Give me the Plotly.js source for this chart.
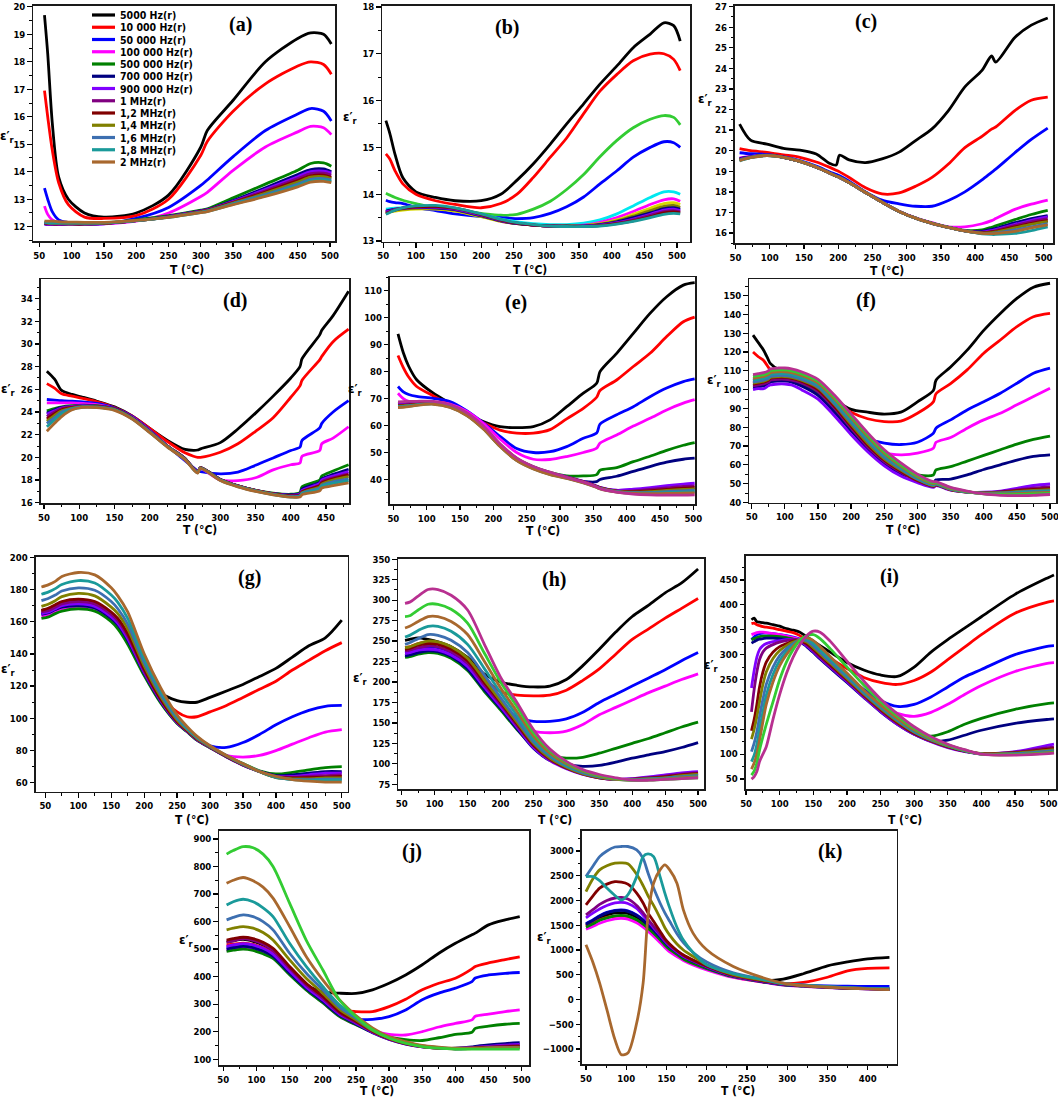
<!DOCTYPE html>
<html><head><meta charset="utf-8">
<script src="https://cdn.plot.ly/plotly-3.0.1.min.js"></script>
<style>html,body{margin:0;padding:0;background:#fff}#chart{width:1058px;height:1098px}</style>
</head><body><div id="chart"></div>
<script>
// ===================== DATA =====================
const LEGEND_NAMES = ['5000 Hz(r)','10 000 Hz(r)','50 000 Hz(r)','100 000 Hz(r)','500 000 Hz(r)','700 000 Hz(r)','900 000 Hz(r)','1 MHz(r)','1,2 MHz(r)','1,4 MHz(r)','1,6 MHz(r)','1,8 MHz(r)','2 MHz(r)'];
const LEGEND_KEYS = ['k','r','b','m','g','nv','vi','pu','wi','ol','ro','te','br'];

// (a)
const Ta = [58, 63, 70, 80, 95, 120, 150, 200, 250, 300, 310, 350, 400, 450, 470, 490, 502];
const aK = [19.7, 18.3, 15.8, 13.8, 13.0, 12.5, 12.35, 12.5, 13.15, 14.9, 15.5, 16.6, 18.0, 18.85, 19.05, 19.0, 18.65];
const aR = [16.95, 16.0, 14.8, 13.6, 12.8, 12.35, 12.3, 12.4, 13.0, 14.6, 15.1, 16.2, 17.2, 17.85, 18.0, 17.9, 17.55];
const aB = [13.4, 13.0, 12.55, 12.25, 12.15, 12.1, 12.1, 12.3, 12.7, 13.5, 13.7, 14.55, 15.5, 16.1, 16.3, 16.2, 15.85];
const aM = [12.75, 12.45, 12.25, 12.15, 12.1, 12.1, 12.1, 12.2, 12.5, 13.1, 13.25, 14.05, 14.9, 15.45, 15.65, 15.6, 15.35];
const aG = [12.12, 12.1, 12.1, 12.1, 12.1, 12.1, 12.12, 12.25, 12.4, 12.6, 12.65, 13.05, 13.55, 14.05, 14.3, 14.32, 14.2];
const aNv = [12.1, 12.08, 12.08, 12.08, 12.1, 12.1, 12.12, 12.22, 12.38, 12.58, 12.62, 12.95, 13.42, 13.9, 14.08, 14.1, 14.0];
const aVi = [12.1, 12.08, 12.08, 12.08, 12.1, 12.1, 12.12, 12.22, 12.37, 12.57, 12.61, 12.92, 13.36, 13.82, 14.0, 14.02, 13.95];
const aPu = [12.12, 12.1, 12.1, 12.1, 12.1, 12.1, 12.12, 12.22, 12.36, 12.56, 12.6, 12.9, 13.31, 13.75, 13.93, 13.95, 13.88];
const aWi = [12.14, 12.12, 12.1, 12.1, 12.1, 12.1, 12.12, 12.22, 12.36, 12.55, 12.59, 12.88, 13.26, 13.68, 13.85, 13.88, 13.8];
const aOl = [12.15, 12.13, 12.12, 12.12, 12.12, 12.12, 12.13, 12.22, 12.35, 12.54, 12.58, 12.86, 13.22, 13.62, 13.8, 13.82, 13.75];
const aRo = [12.16, 12.14, 12.13, 12.13, 12.13, 12.13, 12.14, 12.22, 12.35, 12.53, 12.57, 12.84, 13.17, 13.55, 13.72, 13.75, 13.7];
const aTe = [12.17, 12.15, 12.14, 12.14, 12.14, 12.14, 12.15, 12.22, 12.34, 12.52, 12.56, 12.82, 13.13, 13.5, 13.67, 13.7, 13.65];
const aBr = [12.2, 12.2, 12.2, 12.18, 12.17, 12.16, 12.16, 12.23, 12.34, 12.51, 12.55, 12.8, 13.1, 13.45, 13.62, 13.65, 13.6];

// (b)
const Tb = [54, 60, 68, 80, 100, 130, 160, 200, 230, 255, 280, 306, 331, 357, 382, 408, 433, 459, 480, 495, 505];
const bK = [15.57, 15.3, 14.85, 14.35, 14.05, 13.93, 13.86, 13.86, 14.0, 14.3, 14.65, 15.07, 15.5, 15.93, 16.35, 16.74, 17.13, 17.42, 17.66, 17.6, 17.27];
const bR = [14.86, 14.75, 14.5, 14.22, 14.0, 13.86, 13.78, 13.71, 13.8, 14.0, 14.36, 14.79, 15.2, 15.72, 16.2, 16.56, 16.85, 16.99, 17.0, 16.88, 16.64];
const bLi = [14.02, 13.98, 13.93, 13.87, 13.8, 13.7, 13.66, 13.59, 13.55, 13.57, 13.68, 13.85, 14.1, 14.42, 14.8, 15.15, 15.42, 15.6, 15.68, 15.64, 15.48];
const bB = [13.87, 13.84, 13.82, 13.8, 13.72, 13.65, 13.58, 13.52, 13.5, 13.48, 13.5, 13.59, 13.73, 13.94, 14.22, 14.5, 14.79, 15.0, 15.12, 15.1, 15.0];
const bCy = [13.68, 13.69, 13.7, 13.71, 13.72, 13.71, 13.68, 13.57, 13.47, 13.41, 13.37, 13.35, 13.35, 13.38, 13.45, 13.58, 13.75, 13.93, 14.05, 14.05, 14.0];
const bM = [13.62, 13.64, 13.66, 13.68, 13.7, 13.69, 13.65, 13.53, 13.42, 13.37, 13.34, 13.32, 13.32, 13.34, 13.4, 13.5, 13.63, 13.78, 13.88, 13.9, 13.85];
const bYe = [13.6, 13.62, 13.64, 13.66, 13.68, 13.68, 13.64, 13.52, 13.42, 13.37, 13.34, 13.32, 13.32, 13.33, 13.37, 13.45, 13.57, 13.7, 13.8, 13.82, 13.78];
const bOl = [13.62, 13.64, 13.66, 13.68, 13.7, 13.7, 13.66, 13.53, 13.43, 13.37, 13.34, 13.32, 13.32, 13.33, 13.36, 13.43, 13.53, 13.65, 13.74, 13.76, 13.72];
const bNv = [13.64, 13.66, 13.68, 13.7, 13.72, 13.71, 13.67, 13.54, 13.43, 13.37, 13.34, 13.32, 13.32, 13.32, 13.35, 13.41, 13.5, 13.6, 13.69, 13.71, 13.68];
const bVi = [13.62, 13.64, 13.67, 13.7, 13.72, 13.72, 13.68, 13.55, 13.44, 13.38, 13.34, 13.32, 13.31, 13.32, 13.34, 13.39, 13.47, 13.57, 13.66, 13.68, 13.65];
const bPu = [13.6, 13.63, 13.67, 13.7, 13.73, 13.73, 13.69, 13.56, 13.44, 13.38, 13.34, 13.32, 13.31, 13.31, 13.33, 13.38, 13.45, 13.55, 13.63, 13.65, 13.62];
const bWi = [13.58, 13.62, 13.66, 13.7, 13.73, 13.74, 13.7, 13.57, 13.45, 13.38, 13.34, 13.32, 13.31, 13.31, 13.33, 13.37, 13.43, 13.52, 13.6, 13.62, 13.6];
const bTe = [13.57, 13.61, 13.66, 13.71, 13.75, 13.76, 13.71, 13.58, 13.46, 13.39, 13.35, 13.32, 13.31, 13.31, 13.32, 13.36, 13.42, 13.5, 13.57, 13.59, 13.58];

// (c)
const Tc = [56, 72, 96, 120, 144, 168, 187, 197, 202, 216, 240, 264, 289, 313, 337, 361, 385, 410, 424, 430, 458, 482, 506];
const cK = [21.29, 20.51, 20.32, 20.11, 20.03, 19.84, 19.39, 19.3, 19.78, 19.55, 19.42, 19.6, 19.93, 20.49, 21.06, 21.95, 23.1, 23.9, 24.6, 24.3, 25.5, 26.1, 26.45];
const cR = [20.1, 20.0, 19.92, 19.8, 19.68, 19.45, 19.2, 19.05, 18.97, 18.7, 18.2, 17.9, 17.95, 18.27, 18.7, 19.35, 20.15, 20.7, 21.05, 21.15, 21.95, 22.45, 22.6];
const cB = [19.9, 19.85, 19.82, 19.7, 19.52, 19.25, 18.98, 18.85, 18.78, 18.52, 18.0, 17.6, 17.42, 17.3, 17.3, 17.58, 18.0, 18.58, 18.95, 19.1, 19.9, 20.55, 21.1];
const cM = [19.65, 19.72, 19.78, 19.68, 19.48, 19.2, 18.92, 18.77, 18.7, 18.45, 17.97, 17.5, 17.06, 16.74, 16.5, 16.3, 16.3, 16.45, 16.6, 16.7, 17.15, 17.4, 17.6];
const cG = [19.6, 19.7, 19.78, 19.68, 19.48, 19.2, 18.92, 18.77, 18.7, 18.45, 17.97, 17.5, 17.05, 16.72, 16.48, 16.28, 16.13, 16.15, 16.28, 16.35, 16.65, 16.9, 17.1];
const cNv = [19.62, 19.7, 19.78, 19.68, 19.48, 19.2, 18.92, 18.77, 18.7, 18.45, 17.97, 17.5, 17.05, 16.72, 16.47, 16.27, 16.1, 16.08, 16.18, 16.22, 16.5, 16.7, 16.85];
const cVi = [19.58, 19.7, 19.78, 19.68, 19.48, 19.2, 18.92, 18.77, 18.7, 18.45, 17.97, 17.5, 17.05, 16.72, 16.47, 16.27, 16.1, 16.04, 16.12, 16.17, 16.42, 16.62, 16.78];
const cPu = [19.56, 19.69, 19.77, 19.68, 19.48, 19.2, 18.92, 18.77, 18.7, 18.45, 17.97, 17.5, 17.05, 16.72, 16.47, 16.27, 16.1, 16.02, 16.08, 16.12, 16.37, 16.55, 16.7];
const cWi = [19.55, 19.68, 19.77, 19.68, 19.48, 19.2, 18.92, 18.77, 18.7, 18.45, 17.97, 17.5, 17.05, 16.72, 16.47, 16.27, 16.1, 16.0, 16.05, 16.08, 16.3, 16.47, 16.6];
const cOl = [19.55, 19.68, 19.77, 19.68, 19.48, 19.2, 18.92, 18.77, 18.7, 18.45, 17.97, 17.5, 17.05, 16.72, 16.47, 16.27, 16.1, 16.0, 16.02, 16.05, 16.25, 16.42, 16.55];
const cRo = [19.53, 19.67, 19.76, 19.68, 19.48, 19.2, 18.92, 18.77, 18.7, 18.45, 17.97, 17.5, 17.05, 16.72, 16.47, 16.27, 16.1, 15.98, 15.98, 16.0, 16.15, 16.3, 16.45];
const cTe = [19.5, 19.66, 19.76, 19.68, 19.48, 19.2, 18.92, 18.77, 18.7, 18.45, 17.97, 17.5, 17.05, 16.72, 16.47, 16.27, 16.1, 15.96, 15.93, 15.93, 15.98, 16.12, 16.3];
const cBr = [19.52, 19.66, 19.76, 19.68, 19.48, 19.2, 18.92, 18.77, 18.7, 18.45, 17.97, 17.5, 17.05, 16.72, 16.47, 16.27, 16.1, 15.98, 15.97, 15.98, 16.08, 16.25, 16.4];

// (d)
const Td = [54, 65, 75, 90, 105, 125, 150, 175, 200, 225, 250, 262, 268, 272, 300, 325, 350, 375, 400, 413, 416, 441, 444, 460, 482];
const dK = [27.6, 26.9, 25.9, 25.55, 25.3, 24.95, 24.45, 23.65, 22.55, 21.5, 20.7, 20.62, 20.65, 20.75, 21.3, 22.5, 23.9, 25.4, 27.0, 28.0, 28.7, 30.8, 31.2, 32.5, 34.65];
const dR = [26.5, 26.1, 25.6, 25.4, 25.2, 24.9, 24.4, 23.65, 22.55, 21.4, 20.4, 20.1, 20.0, 20.0, 20.45, 21.2, 22.3, 23.5, 25.3, 26.3, 26.8, 28.6, 28.9, 30.2, 31.3];
const dB = [25.1, 25.05, 25.0, 24.95, 24.9, 24.75, 24.35, 23.6, 22.4, 21.0, 19.7, 19.1, 18.8, 18.75, 18.55, 18.7, 19.3, 19.95, 20.6, 20.9, 21.5, 22.6, 23.0, 24.0, 25.0];
const dM = [24.8, 24.8, 24.8, 24.8, 24.75, 24.65, 24.3, 23.55, 22.35, 21.0, 19.8, 19.0, 18.75, 19.0, 18.0, 17.95, 18.2, 18.9, 19.35, 19.5, 20.1, 20.6, 21.2, 21.7, 22.7];
const dG = [24.1, 24.3, 24.45, 24.55, 24.6, 24.55, 24.3, 23.5, 22.3, 21.0, 19.9, 19.0, 18.7, 19.1, 18.05, 17.5, 17.1, 16.85, 16.75, 16.9, 17.4, 18.0, 18.35, 18.8, 19.35];
const dNv = [23.9, 24.2, 24.4, 24.5, 24.55, 24.5, 24.3, 23.5, 22.3, 21.0, 19.9, 19.0, 18.7, 19.1, 18.05, 17.5, 17.1, 16.8, 16.7, 16.8, 17.2, 17.8, 18.1, 18.5, 18.95];
const dVi = [23.8, 24.1, 24.35, 24.5, 24.55, 24.5, 24.28, 23.5, 22.3, 21.0, 19.9, 19.0, 18.7, 19.1, 18.05, 17.5, 17.1, 16.8, 16.65, 16.75, 17.1, 17.7, 18.0, 18.35, 18.75];
const dPu = [23.6, 24.0, 24.3, 24.45, 24.5, 24.5, 24.27, 23.48, 22.3, 21.0, 19.9, 19.0, 18.7, 19.1, 18.05, 17.5, 17.1, 16.8, 16.6, 16.7, 17.0, 17.55, 17.85, 18.2, 18.55];
const dWi = [23.4, 23.85, 24.2, 24.4, 24.5, 24.48, 24.25, 23.47, 22.28, 20.98, 19.88, 19.0, 18.7, 19.1, 18.04, 17.48, 17.08, 16.78, 16.6, 16.65, 16.95, 17.5, 17.75, 18.1, 18.45];
const dOl = [23.2, 23.7, 24.1, 24.35, 24.47, 24.45, 24.23, 23.45, 22.26, 20.96, 19.86, 18.98, 18.68, 19.08, 18.02, 17.46, 17.06, 16.76, 16.55, 16.6, 16.9, 17.4, 17.65, 18.0, 18.3];
const dRo = [23.0, 23.5, 24.0, 24.3, 24.45, 24.43, 24.2, 23.43, 22.24, 20.94, 19.84, 18.96, 18.66, 19.06, 18.0, 17.44, 17.04, 16.74, 16.55, 16.6, 16.85, 17.3, 17.55, 17.85, 18.1];
const dTe = [22.7, 23.3, 23.85, 24.25, 24.42, 24.4, 24.18, 23.4, 22.2, 20.92, 19.82, 18.94, 18.64, 19.04, 17.98, 17.42, 17.02, 16.72, 16.5, 16.55, 16.8, 17.2, 17.45, 17.7, 17.95];
const dBr = [22.3, 23.0, 23.6, 24.2, 24.4, 24.38, 24.15, 23.38, 22.18, 20.9, 19.8, 18.92, 18.62, 19.02, 17.96, 17.4, 17.0, 16.7, 16.5, 16.5, 16.7, 17.05, 17.3, 17.5, 17.75];

// (e)
const Te = [57, 65, 73, 85, 110, 135, 160, 185, 210, 235, 260, 285, 310, 335, 355, 360, 385, 410, 435, 460, 485, 502];
const eK = [94, 87, 82, 77, 72, 68.3, 64.6, 61.5, 59.6, 59.2, 59.6, 62.1, 67, 72, 75.7, 80, 86.8, 94.2, 101.6, 107.8, 112.1, 113];
const eR = [86, 81.5, 78, 74.5, 71, 67.8, 64.5, 61.0, 58.3, 57.2, 57.2, 58.5, 62.5, 66.4, 70.5, 73, 76.9, 81.9, 86.8, 93, 98.5, 100.2];
const eB = [74.5, 72.5, 71.5, 70.8, 70.1, 68.9, 65.5, 61.0, 56, 51.5, 50.0, 50.3, 52.2, 55.3, 57.2, 60.5, 64, 67, 70.7, 73.9, 76.3, 77.3];
const eM = [72, 70, 69, 68.5, 68.8, 68, 65.3, 60.8, 55, 50, 47.5, 47.4, 48.5, 50, 51.6, 53.5, 56.5, 59.8, 62.7, 65.8, 68.3, 69.6];
const eG = [68.3, 68.4, 68.5, 68.6, 68.7, 67.5, 64.5, 59.5, 53, 47.8, 44.7, 42.6, 41.3, 41.3, 41.8, 43.4, 44.4, 46.6, 48.6, 50.8, 52.7, 53.7];
const eNv = [68.0, 68.1, 68.2, 68.4, 68.6, 67.4, 64.4, 59.4, 52.9, 47.7, 44.6, 42.5, 40.6, 39.3, 39.2, 40, 41.2, 43, 44.8, 46.4, 47.5, 47.9];
const eVi = [67.8, 67.9, 68.0, 68.2, 68.5, 67.3, 64.3, 59.3, 52.8, 47.6, 44.5, 42.4, 41.0, 39.3, 37.6, 37.1, 36.0, 36.4, 37.0, 37.7, 38.3, 38.6];
const ePu = [67.6, 67.7, 67.8, 68.0, 68.4, 67.2, 64.2, 59.2, 52.7, 47.5, 44.4, 42.3, 40.9, 39.2, 37.5, 37.0, 35.8, 35.8, 36.3, 36.9, 37.4, 37.6];
const eWi = [67.4, 67.5, 67.6, 67.9, 68.3, 67.1, 64.1, 59.1, 52.6, 47.4, 44.3, 42.2, 40.8, 39.1, 37.4, 36.9, 35.7, 35.5, 35.8, 36.3, 36.8, 37.0];
const eOl = [67.2, 67.3, 67.5, 67.8, 68.2, 67.0, 64.0, 59.0, 52.5, 47.3, 44.2, 42.1, 40.7, 39.0, 37.3, 36.8, 35.6, 35.3, 35.5, 35.9, 36.3, 36.5];
const eRo = [67.0, 67.1, 67.3, 67.7, 68.1, 66.9, 63.9, 58.9, 52.4, 47.2, 44.1, 42.0, 40.6, 38.9, 37.2, 36.7, 35.5, 35.1, 35.2, 35.5, 35.8, 36.0];
const eTe = [66.9, 67.0, 67.2, 67.6, 68.0, 66.8, 63.8, 58.8, 52.3, 47.1, 44.0, 41.9, 40.5, 38.8, 37.1, 36.6, 35.4, 34.9, 35.0, 35.1, 35.3, 35.5];
const eBr = [66.7, 66.8, 67.0, 67.5, 67.9, 66.7, 63.7, 58.7, 52.2, 47.0, 43.9, 41.8, 40.4, 38.7, 37.0, 36.5, 35.3, 34.8, 34.7, 34.8, 34.9, 35.0];
const eMp = [68.8, 68.9, 69.0, 69.0, 69.0, 67.8, 64.8, 59.8, 53.2, 48.0, 44.8, 42.7, 40.8, 39.0, 37.2, 36.6, 35.3, 34.6, 34.3, 34.2, 34.2, 34.3];

// (f)
const Tf = [52, 60, 68, 75, 78, 90, 100, 110, 125, 150, 175, 200, 225, 250, 275, 300, 324, 328, 350, 375, 400, 425, 450, 475, 500];
const fK = [129, 125, 121, 116, 114, 111, 110.5, 110.5, 108.5, 104, 95, 89.5, 88, 87, 88, 93.5, 99.5, 105, 112, 121, 131.5, 140.5, 148.5, 154.5, 156.6];
const fR = [120, 117.5, 115.5, 112, 110.5, 109, 109, 109, 107, 102.5, 93.5, 88, 84.5, 83, 83.2, 87.4, 93.5, 97.8, 103.2, 110.5, 119.4, 126.4, 133.5, 138.8, 140.6];
const fB = [105, 105.5, 106, 107, 108, 108.5, 108.5, 108, 106, 101, 92, 82, 74, 71.6, 70.8, 72, 76.8, 79.5, 83.9, 89.2, 93.6, 98.1, 103.4, 108.7, 111.4];
const fM = [104, 104.5, 105, 106, 107, 107.5, 107.5, 107, 105, 100, 91, 81, 71.5, 66.5, 65.3, 66.2, 68.8, 72, 74.5, 79.5, 83.9, 87.4, 91.9, 96.3, 100.7];
const fG = [102, 102.5, 103, 104, 105, 105.5, 105.5, 105, 103, 98, 89, 79, 69.5, 61.5, 57, 54.6, 54.6, 57.3, 59, 62, 65, 68, 71, 73.5, 75.3];
const fNv = [101, 101.5, 102, 103, 104, 104.5, 104.5, 104, 102, 97, 88, 78, 68.5, 60.5, 55, 53, 50.3, 52, 52.4, 54.6, 57.5, 60, 62.5, 64.5, 65.3];
const fVi = [100, 100.5, 100.5, 102, 102.5, 103, 103, 102.5, 100, 95, 86, 76, 67, 59.5, 54, 50.5, 48, 49, 46.5, 45.5, 45.4, 46, 47.5, 49, 49.8];
const fPu = [102, 102.5, 103, 104, 105, 105.5, 105.5, 105, 103.5, 99, 90, 79.5, 69.5, 61.7, 56, 51.4, 48.4, 49.2, 46.7, 45.5, 45.2, 45.7, 46.7, 47.6, 48.2];
const fWi = [103, 103.5, 104, 105, 106, 106.5, 106.5, 106, 104.5, 100, 91, 80.5, 70.5, 62.5, 56.6, 51.8, 48.7, 49.4, 46.8, 45.5, 45.1, 45.4, 46.2, 46.9, 47.3];
const fOl = [103.5, 104, 104.5, 105.5, 106.5, 107, 107, 106.5, 105, 101, 92, 81.5, 71.5, 63.2, 57.2, 52.2, 48.9, 49.6, 46.9, 45.5, 45, 45.2, 45.8, 46.4, 46.8];
const fRo = [104, 104.5, 105, 106, 107, 107.5, 107.5, 107, 105.5, 101.5, 92.5, 82.5, 72.5, 64, 57.8, 52.5, 49.2, 49.8, 47, 45.5, 44.9, 45.0, 45.5, 46, 46.3];
const fTe = [105, 105.5, 106, 107, 108, 108.5, 108.5, 108, 106.5, 102.5, 93.5, 83.5, 73.5, 65, 58.5, 53, 49.6, 50, 47.2, 45.6, 44.8, 44.8, 45.1, 45.5, 45.8];
const fBr = [106, 106.5, 107, 108, 109, 109.5, 109.5, 109, 107.5, 103.5, 95, 85, 75, 66, 59.3, 53.7, 50, 50.4, 47.4, 45.7, 44.7, 44.5, 44.7, 45, 45.3];
const fLi = [107, 107.5, 108, 109, 110, 110.5, 110.5, 110, 108.5, 104.5, 96, 86, 76, 67, 60, 54.3, 50.5, 50.7, 47.7, 45.8, 44.6, 44.2, 44.2, 44.5, 44.8];
const fMp = [108, 108.5, 109, 110, 111, 111.5, 111.5, 111, 109.5, 105.5, 97, 87, 77, 68, 61, 55, 51, 51, 48, 46, 44.5, 43.8, 43.6, 43.8, 44.2];

// (g)
const Tg = [44, 55, 65, 75, 100, 125, 150, 160, 175, 200, 225, 250, 265, 280, 300, 325, 350, 375, 400, 425, 450, 475, 500];
const gK = [167, 168, 170, 172, 173, 171.5, 165, 160.5, 151, 131, 116, 111, 110, 110, 113, 117, 121, 126, 131, 138, 145, 150, 161];
const gR = [166, 167, 169, 171, 172, 170.5, 164, 159.5, 150, 130, 114, 104, 101, 101, 104, 108, 113, 118, 123, 130, 136, 142, 147];
const gB = [165, 166, 168, 170, 171, 169.5, 163, 158.5, 149, 129, 112, 99, 93, 88, 83, 82, 85, 90, 96, 101, 105, 107.5, 108];
const gM = [163.5, 164.5, 166.5, 168, 169.5, 168, 161.5, 157, 147.5, 127.5, 110.5, 97.5, 92.5, 87.5, 82, 77, 76, 77, 80, 84, 88, 91.5, 93];
const gG = [162, 163, 165, 166.5, 168, 166.5, 160, 155.5, 146, 126.5, 109.5, 96.8, 91.7, 86.5, 81.8, 76.2, 72, 67.5, 65.5, 66.5, 68, 69.5, 70];
const gNv = [164.5, 165.5, 167.5, 169, 170, 168.5, 162, 158, 148.5, 128, 110.5, 97.2, 92, 86.7, 81.9, 76.1, 71, 67.2, 64.5, 65, 66, 67, 67];
const gVi = [165, 166, 168, 170, 171, 169.5, 163, 159, 149.5, 128.5, 111, 97.4, 92.1, 86.8, 82, 76.2, 71, 67, 64, 64, 65, 66, 66];
const gPu = [166, 167, 169, 171, 172.5, 171, 164.5, 160.5, 151, 129.5, 111.5, 97.7, 92.3, 87, 82.1, 76.3, 71.1, 67, 63.8, 63.5, 64, 64.5, 65];
const gWi = [167, 168.5, 170.5, 172.5, 174, 172.5, 166, 162, 152.5, 130.5, 112, 98, 92.5, 87.2, 82.2, 76.4, 71.2, 67, 63.5, 63, 63.2, 63.6, 64];
const gOl = [169.5, 171, 173, 175.5, 177.5, 176, 169, 165, 155.5, 132.5, 113.5, 99, 93, 87.6, 82.4, 76.6, 71.4, 67, 63.3, 62.5, 62.5, 63, 63];
const gRo = [173, 174.5, 176.5, 179, 181, 179.5, 172.5, 168, 158.5, 134.5, 115, 100, 93.5, 88, 82.6, 76.8, 71.6, 67, 63.4, 62.2, 62, 62.3, 62.3];
const gTe = [177, 178.5, 180.5, 183, 185.5, 184, 176.5, 172, 162, 137, 117, 101, 94, 88.5, 82.8, 77, 71.8, 67, 63.5, 62, 61.5, 61.7, 61.7];
const gBr = [181.5, 183, 185, 188, 190.5, 189, 181, 176, 166, 140, 119, 102, 95, 89, 83, 77, 72, 67, 64, 62, 61, 60.5, 60.5];

// (h)
const Th = [55, 62, 75, 90, 105, 125, 150, 175, 200, 225, 250, 275, 300, 325, 350, 375, 400, 425, 450, 475, 500];
const hK = [251, 252, 254, 252, 249, 243, 230, 210, 200, 196, 194, 195, 203, 220, 240, 261, 280, 294, 309, 321, 338];
const hR = [242, 243, 247, 249, 248, 242, 228, 205, 188, 184, 183, 184, 190, 202, 216, 234, 252, 265, 278, 290, 302];
const hB = [236, 237, 241, 243, 242, 236, 221, 196, 172, 157, 152, 152, 155, 163, 175, 185, 195, 205, 215, 226, 236];
const hM = [232, 233, 237, 239, 238, 232, 217, 192, 168, 150, 140, 138, 140, 148, 160, 169, 178, 187, 195, 203, 210];
const hG = [230, 231, 234, 236, 235, 229, 214, 189, 166, 142, 122, 110, 107, 108, 113, 119, 125, 131, 138, 145, 151];
const hNv = [232, 233, 236, 238, 237, 231, 216, 191, 168, 143, 119, 104, 99, 97, 98, 102, 107, 111, 115, 120, 126];
const hVi = [235, 236, 239, 240, 239, 233, 219, 194, 170, 145, 120, 104, 94, 87, 83, 81, 82, 84, 86.5, 89, 90.5];
const hPu = [238, 239, 242, 244, 243, 237, 223, 197, 173, 147, 122, 105, 95, 87.5, 83, 81, 81.5, 83, 85, 87.5, 89];
const hWi = [240, 241, 245, 247, 246, 240, 226, 200, 175, 149, 123, 106, 95, 88, 83, 81, 81, 82.5, 84, 86.5, 88];
const hOl = [242, 243, 247, 250, 249, 243, 229, 203, 177, 151, 125, 107, 96, 88, 83.5, 81, 81, 82, 83, 85.5, 87];
const hRo = [246, 248, 253, 258, 257, 251, 236, 209, 181, 154, 127, 109, 97, 89, 84, 81, 80.5, 81.5, 82.5, 84.5, 86];
const hTe = [255, 257, 263, 268, 268, 262, 246, 217, 187, 159, 130, 111, 98, 90, 84, 81, 80, 81, 82, 83.5, 85];
const hBr = [266, 268, 274, 280, 280, 274, 258, 226, 193, 164, 134, 113, 100, 91, 85, 81, 80, 80.5, 81.5, 83, 84];
const hLi = [280, 281, 288, 295, 295, 289, 272, 236, 200, 170, 138, 116, 102, 92, 86, 82, 80, 80, 81, 82, 83];
const hMp = [296, 297.6, 305, 313, 313, 306, 288, 247, 206, 175, 142, 118, 103, 93, 87, 83, 80, 80, 81, 82, 83];

// (i)
const Ti = [58, 62, 66, 70, 75, 80, 90, 100, 110, 120, 130, 140, 150, 160, 175, 200, 225, 250, 275, 300, 325, 350, 375, 400, 450, 500, 508];
const iK = [370, 373, 366, 365, 364, 363, 360, 357, 352, 349, 345, 336, 327, 318, 305, 284, 269, 259, 256, 275, 305, 330, 353, 376, 421, 455, 460];
const iR = [362, 363, 360, 358, 356, 355, 353, 350, 347, 344, 338, 328, 318, 308, 293, 272, 254, 244, 240, 248, 265, 290, 315, 340, 383, 406, 408];
const iB = [330, 335, 340, 342, 343, 343, 342, 340, 338, 335, 331, 322, 310, 298, 282, 256, 230, 208, 196, 200, 215, 235, 255, 270, 300, 317, 318];
const iM = [340, 342, 344, 345, 345, 344, 342, 340, 337, 334, 330, 320, 308, 296, 279, 252, 225, 200, 182, 176, 184, 200, 220, 238, 266, 283, 284];
const iG = [330, 332, 334, 336, 337, 337, 337, 336, 334, 331, 328, 318, 306, 294, 276, 248, 218, 190, 165, 142, 136, 145, 160, 172, 190, 202, 203];
const iNv = [323, 326, 329, 331, 332, 333, 333, 332, 331, 329, 326, 316, 304, 291, 273, 244, 214, 185, 160, 140, 126, 128, 138, 148, 162, 170, 171];
const iVi = [233, 268, 295, 310, 318, 322, 326, 328, 330, 330, 327, 318, 306, 293, 275, 246, 215, 186, 160, 140, 125, 113, 105, 101, 105, 118, 120];
const iPu = [185, 230, 265, 290, 305, 313, 320, 325, 328, 330, 328, 320, 308, 295, 277, 248, 217, 188, 162, 141, 126, 114, 106, 101, 104, 113, 114];
const iWi = [147, 170, 200, 235, 265, 285, 305, 316, 322, 327, 328, 322, 311, 298, 280, 250, 219, 190, 164, 142, 127, 115, 106, 101, 103, 110, 111];
const iOl = [130, 150, 175, 205, 240, 265, 292, 308, 318, 325, 329, 325, 314, 301, 283, 252, 221, 192, 166, 144, 128, 116, 107, 101, 102, 108, 109];
const iRo = [105, 122, 145, 175, 210, 240, 275, 298, 312, 322, 329, 328, 318, 305, 286, 255, 223, 194, 168, 145, 129, 117, 107, 100, 101, 106, 107];
const iTe = [85, 98, 120, 150, 185, 218, 260, 288, 306, 319, 329, 331, 323, 310, 291, 259, 226, 196, 170, 147, 130, 117, 107, 100, 100, 104, 105];
const iBr = [70, 82, 100, 128, 165, 200, 245, 278, 300, 316, 330, 334, 328, 316, 296, 263, 229, 199, 172, 149, 131, 118, 108, 100, 99, 103, 104];
const iLi = [58, 66, 82, 108, 135, 160, 205, 250, 285, 310, 329, 338, 340, 332, 312, 275, 239, 206, 177, 152, 133, 119, 108, 100, 99, 102, 103];
const iMp = [50, 55, 65, 85, 100, 115, 170, 220, 262, 295, 320, 338, 347, 345, 327, 287, 247, 211, 181, 155, 135, 120, 109, 100, 98, 101, 102];

// (j)
const Tj = [55, 65, 80, 95, 110, 125, 150, 175, 200, 225, 250, 275, 300, 325, 350, 375, 400, 425, 430, 450, 475, 497];
const jK = [525, 530, 535, 528, 515, 495, 430, 370, 345, 340, 339, 352, 376, 406, 443, 485, 521, 552, 558, 588, 606, 618];
const jR = [515, 518, 522, 517, 505, 485, 422, 363, 315, 280, 273, 273, 291, 318, 352, 376, 394, 428, 437, 450, 462, 472];
const jB = [505, 508, 512, 507, 495, 476, 415, 358, 310, 265, 245, 245, 255, 279, 316, 340, 358, 382, 395, 406, 412, 415];
const jM = [495, 498, 503, 498, 486, 468, 409, 353, 306, 257, 226, 205, 190, 188, 200, 217, 230, 243, 256, 264, 273, 279];
const jG = [492, 496, 500, 495, 483, 466, 407, 352, 305, 256, 225, 198, 180, 171, 168, 178, 190, 198, 212, 220, 227, 230];
const jNv = [500, 505, 510, 505, 493, 474, 413, 357, 310, 260, 228, 196, 172, 155, 145, 140, 140, 145, 147, 152, 157, 160];
const jVi = [510, 515, 520, 515, 503, 482, 420, 362, 315, 264, 231, 198, 173, 156, 145, 140, 139, 142, 143, 147, 151, 154];
const jPu = [525, 530, 538, 532, 518, 495, 430, 370, 322, 268, 234, 200, 174, 157, 146, 140, 139, 141, 142, 145, 148, 150];
const jWi = [533, 538, 543, 538, 525, 503, 437, 376, 329, 273, 238, 202, 175, 157, 146, 140, 138, 140, 141, 143, 145, 147];
const jOl = [570, 576, 582, 576, 560, 533, 461, 394, 340, 282, 243, 204, 176, 158, 146, 140, 138, 139, 140, 141, 143, 144];
const jRo = [606, 615, 624, 618, 600, 570, 485, 413, 352, 290, 249, 207, 178, 159, 147, 141, 138, 139, 139, 140, 142, 143];
const jTe = [660, 672, 681, 672, 650, 618, 521, 437, 364, 298, 255, 209, 180, 160, 148, 142, 138, 139, 139, 140, 141, 142];
const jBr = [739, 750, 760, 748, 725, 685, 582, 473, 388, 316, 259, 214, 182, 164, 150, 144, 140, 140, 140, 141, 142, 142];
const jLi = [845, 858, 872, 868, 845, 800, 667, 533, 425, 316, 255, 207, 177, 158, 146, 140, 137, 137, 137, 137, 137, 137];

// (k)
const Tk = [50, 59, 67, 76, 86, 94, 102, 113, 121, 127, 134, 142, 148, 154, 163, 171, 183, 200, 233, 274, 295, 320, 350, 375, 400, 427];
const kK = [1500, 1580, 1650, 1710, 1750, 1755, 1740, 1660, 1570, 1480, 1380, 1240, 1130, 1040, 930, 840, 750, 640, 470, 380, 410, 520, 680, 760, 820, 850];
const kR = [1480, 1550, 1610, 1660, 1680, 1690, 1675, 1600, 1510, 1430, 1330, 1200, 1090, 1000, 900, 810, 720, 620, 455, 345, 320, 345, 450, 580, 630, 640];
const kB = [1530, 1610, 1690, 1760, 1800, 1810, 1790, 1710, 1610, 1510, 1410, 1270, 1160, 1070, 955, 865, 775, 655, 475, 355, 305, 290, 275, 268, 265, 265];
const kM = [1420, 1480, 1540, 1590, 1630, 1640, 1625, 1550, 1460, 1380, 1280, 1150, 1050, 960, 870, 790, 700, 600, 445, 340, 290, 265, 240, 225, 215, 205];
const kG = [1460, 1530, 1600, 1650, 1690, 1700, 1685, 1610, 1520, 1440, 1340, 1210, 1100, 1010, 910, 820, 730, 625, 460, 345, 295, 270, 245, 230, 220, 212];
const kNv = [1520, 1600, 1680, 1750, 1790, 1800, 1780, 1700, 1600, 1500, 1400, 1260, 1150, 1060, 950, 860, 770, 650, 470, 350, 300, 275, 246, 228, 216, 206];
const kVi = [1650, 1750, 1830, 1900, 1950, 1960, 1940, 1840, 1700, 1580, 1450, 1300, 1180, 1080, 960, 870, 780, 660, 475, 355, 305, 278, 248, 230, 218, 208];
const kPu = [1710, 1820, 1920, 2000, 2050, 2060, 2030, 1900, 1750, 1620, 1480, 1320, 1200, 1100, 980, 890, 790, 670, 480, 360, 310, 280, 250, 232, 220, 210];
const kWi = [1911, 2100, 2250, 2330, 2380, 2370, 2330, 2150, 1950, 1750, 1580, 1380, 1230, 1120, 990, 900, 800, 680, 490, 370, 315, 282, 252, 232, 220, 210];
const kOl = [2180, 2450, 2617, 2700, 2752, 2760, 2740, 2530, 2300, 2100, 1900, 1650, 1450, 1300, 1120, 1000, 870, 700, 500, 380, 320, 285, 255, 235, 222, 212];
const kRo = [2482, 2700, 2885, 3000, 3080, 3090, 3090, 3020, 2850, 2560, 2250, 1950, 1750, 1580, 1330, 1150, 950, 760, 540, 400, 330, 290, 260, 240, 225, 215];
const kTe = [2482, 2482, 2400, 2250, 2100, 2010, 2113, 2482, 2885, 2940, 2885, 2482, 2150, 1850, 1460, 1200, 950, 700, 520, 390, 320, 290, 260, 240, 225, 215];
const kBr = [1105, 734, 331, -206, -810, -1113, -1080, -474, 331, 1675, 2349, 2617, 2718, 2617, 2349, 1810, 1341, 1004, 667, 420, 331, 280, 250, 230, 215, 198];

// ===================== STYLE / LAYOUT =====================
const W = 1058, H = 1098;
const COL = {k:'#000000', r:'#ff0000', b:'#0000ff', m:'#ff00ff', g:'#008000', nv:'#000080', vi:'#8000ff',
  pu:'#800080', wi:'#800000', ol:'#808000', ro:'#3d6fb0', te:'#1a9a9a', br:'#a8682e', li:'#33cc33',
  mp:'#b83090', cy:'#00e8f0', ye:'#d8d800'};
const STD = (p) => [[p.K,'k'],[p.R,'r'],[p.B,'b'],[p.M,'m'],[p.G,'g'],[p.Nv,'nv'],[p.Vi,'vi'],[p.Pu,'pu'],[p.Wi,'wi'],[p.Ol,'ol'],[p.Ro,'ro'],[p.Te,'te'],[p.Br,'br']];

const panels = [
 {lab:'(a)', T:Ta, s:STD({K:aK,R:aR,B:aB,M:aM,G:aG,Nv:aNv,Vi:aVi,Pu:aPu,Wi:aWi,Ol:aOl,Ro:aRo,Te:aTe,Br:aBr}),
  box:[33.3,6,335,241], xr:[40.7,507.7], yr:[11.48,20.03], dy:1, lp:[240,25], xt:[187,270], yt:[7,137]},
 {lab:'(b)', T:Tb, s:[[bK,'k'],[bR,'r'],[bLi,'li'],[bB,'b'],[bCy,'cy'],[bM,'m'],[bYe,'ye'],[bOl,'ol'],[bNv,'nv'],[bVi,'vi'],[bPu,'pu'],[bWi,'wi'],[bTe,'te']],
  box:[382.3,6,690,241.7], xr:[48.5,520], yr:[12.985,18.02], dy:1, lp:[507,28], xt:[530,270], yt:[350,117]},
 {lab:'(c)', T:Tc, s:STD({K:cK,R:cR,B:cB,M:cM,G:cG,Nv:cNv,Vi:cVi,Pu:cPu,Wi:cWi,Ol:cOl,Ro:cRo,Te:cTe,Br:cBr}),
  box:[735,6,1053,243.3], xr:[49.3,513.7], yr:[15.5,27.03], dy:1, lp:[866,22], xt:[887,271], yt:[705,100]},
 {lab:'(d)', T:Td, s:STD({K:dK,R:dR,B:dB,M:dM,G:dG,Nv:dNv,Vi:dVi,Pu:dPu,Wi:dWi,Ol:dOl,Ro:dRo,Te:dTe,Br:dBr}),
  box:[40.7,279.3,349.3,503.3], xr:[45.3,483], yr:[15.95,35.7], dy:2, lp:[235,300], xt:[200,530], yt:[8,390]},
 {lab:'(e)', T:Te, s:STD({K:eK,R:eR,B:eB,M:eM,G:eG,Nv:eNv,Vi:eVi,Pu:ePu,Wi:eWi,Ol:eOl,Ro:eRo,Te:eTe,Br:eBr}).concat([[eMp,'mp']]),
  box:[390,277.3,695,504], xr:[45,502.5], yr:[30.9,115], dy:10, lp:[516,302], xt:[543,531], yt:[355,390]},
 {lab:'(f)', T:Tf, s:STD({K:fK,R:fR,B:fB,M:fM,G:fG,Nv:fNv,Vi:fVi,Pu:fPu,Wi:fWi,Ol:fOl,Ro:fRo,Te:fTe,Br:fBr}).concat([[fLi,'li'],[fMp,'mp']]),
  box:[749.3,279.3,1056,502.7], xr:[46.4,509], yr:[39.85,158.7], dy:10, lp:[866,300], xt:[903,530], yt:[714,380]},
 {lab:'(g)', T:Tg, s:STD({K:gK,R:gR,B:gB,M:gM,G:gG,Nv:gNv,Vi:gVi,Pu:gPu,Wi:gWi,Ol:gOl,Ro:gRo,Te:gTe,Br:gBr}),
  box:[35.7,556.7,347.7,791.7], xr:[35.3,509], yr:[54.5,200.3], dy:20, lp:[249,577], xt:[192,820], yt:[8,669]},
 {lab:'(h)', T:Th, s:STD({K:hK,R:hR,B:hB,M:hM,G:hG,Nv:hNv,Vi:hVi,Pu:hPu,Wi:hWi,Ol:hOl,Ro:hRo,Te:hTe,Br:hBr}).concat([[hLi,'li'],[hMp,'mp']]),
  box:[398.3,559,704,789.3], xr:[44.8,509], yr:[68.9,350.3], dy:25, lp:[554,579], xt:[555,820], yt:[360,678]},
 {lab:'(i)', T:Ti, s:STD({K:iK,R:iR,B:iB,M:iM,G:iG,Nv:iNv,Vi:iVi,Pu:iPu,Wi:iWi,Ol:iOl,Ro:iRo,Te:iTe,Br:iBr}).concat([[iLi,'li'],[iMp,'mp']]),
  box:[745.7,556,1056,789.3], xr:[49.4,511], yr:[29.4,498], dy:50, lp:[889,576], xt:[905,820], yt:[711,665]},
 {lab:'(j)', T:Tj, s:STD({K:jK,R:jR,B:jB,M:jM,G:jG,Nv:jNv,Vi:jVi,Pu:jPu,Wi:jWi,Ol:jOl,Ro:jRo,Te:jTe,Br:jBr}).concat([[jLi,'li']]),
  box:[219.3,831,529,1065], xr:[44,511], yr:[79,929], dy:100, lp:[412,851], xt:[377,1091], yt:[186,940]},
 {lab:'(k)', T:Tk, s:STD({K:kK,R:kR,B:kB,M:kM,G:kG,Nv:kNv,Vi:kVi,Pu:kPu,Wi:kWi,Ol:kOl,Ro:kRo,Te:kTe,Br:kBr}),
  box:[581.7,831,896.7,1064.3], xr:[44.7,436], yr:[-1308,3403], dy:500, lp:[830,851], xt:[738,1091], yt:[544,937]}
];

const SANS = 'Liberation Sans Narrow, Arial Narrow, DejaVu Sans Condensed, Liberation Sans, Arial, sans-serif';
const SERIF = 'Liberation Serif, Times New Roman, serif';
const tickFont = {family:SANS, size:9.5, weight:'bold', color:'#000'};

const data = [];
const layout = {width:W, height:H, margin:{l:0,r:0,t:0,b:0}, paper_bgcolor:'#ffffff', plot_bgcolor:'#ffffff',
  showlegend:false, annotations:[], shapes:[], hovermode:false};

panels.forEach((p, i) => {
  const n = i === 0 ? '' : String(i + 1);
  const [x0, y0, x1, y1] = p.box;
  const common = {ticks:'outside', ticklen:4.5, tickwidth:1.3, tickcolor:'#000', showline:true, linecolor:'#1a1a1a',
    linewidth:1.6, mirror:true, showgrid:false, zeroline:false, tickfont:tickFont, fixedrange:true,
    ticklabeloverflow:'allow'};
  layout['xaxis' + n] = Object.assign({}, common, {domain:[x0 / W, x1 / W], anchor:'y' + n, range:p.xr,
    tick0:0, dtick:50, minor:{tick0:0, dtick:25, ticks:'outside', ticklen:2.5, tickwidth:1, tickcolor:'#000', showgrid:false}});
  layout['yaxis' + n] = Object.assign({}, common, {domain:[1 - y1 / H, 1 - y0 / H], anchor:'x' + n, range:p.yr,
    tick0:0, dtick:p.dy, minor:{tick0:0, dtick:p.dy / 2, ticks:'outside', ticklen:2.5, tickwidth:1, tickcolor:'#000', showgrid:false}});
  p.s.forEach(([y, key]) => {
    const li = LEGEND_KEYS.indexOf(key);
    data.push({type:'scatter', mode:'lines', x:p.T, y:y, xaxis:'x' + n, yaxis:'y' + n,
      name: li >= 0 ? LEGEND_NAMES[li] : key, hoverinfo:'skip',
      line:{color:COL[key], width:2.8, shape:'spline', smoothing:0.8}});
  });
  layout.annotations.push({text:'<b>' + p.lab + '</b>', x:p.lp[0] / W, y:1 - p.lp[1] / H, xref:'paper', yref:'paper',
    showarrow:false, xanchor:'center', yanchor:'middle', font:{family:SERIF, size:20, color:'#000'}});
  layout.annotations.push({text:'<b>T (°C)</b>', x:p.xt[0] / W, y:1 - p.xt[1] / H, xref:'paper', yref:'paper',
    showarrow:false, xanchor:'center', yanchor:'middle', font:{family:SANS, size:12, color:'#000'}});
  layout.annotations.push({text:'<b>ε′<sub>r</sub></b>', x:p.yt[0] / W, y:1 - p.yt[1] / H, xref:'paper', yref:'paper',
    showarrow:false, xanchor:'center', yanchor:'middle', font:{family:SANS, size:13, color:'#000'}});
});

// custom legend inside panel (a)
LEGEND_NAMES.forEach((nm, i) => {
  const yy = 15 + i * 12.25;
  layout.shapes.push({type:'line', xref:'paper', yref:'paper', x0:92 / W, x1:115 / W, y0:1 - yy / H, y1:1 - yy / H,
    line:{color:COL[LEGEND_KEYS[i]], width:3.2}});
  layout.annotations.push({text:'<b>' + nm + '</b>', x:118 / W, y:1 - yy / H, xref:'paper', yref:'paper',
    showarrow:false, xanchor:'left', yanchor:'middle', font:{family:SANS, size:10.5, color:'#000'}});
});

Plotly.newPlot('chart', data, layout, {staticPlot:true, displayModeBar:false}).then(() => {
  // drop empty text nodes (unused axis titles) that Plotly leaves in the SVG
  document.querySelectorAll('#chart svg text').forEach(t => { if (!t.textContent.trim()) t.remove(); });
});
</script>
</body></html>
